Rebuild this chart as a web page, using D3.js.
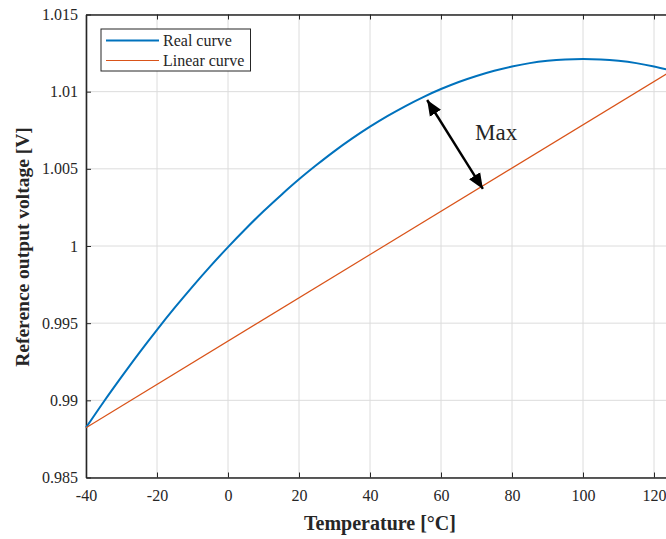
<!DOCTYPE html>
<html>
<head>
<meta charset="utf-8">
<script src="https://cdn.jsdelivr.net/npm/d3@7/dist/d3.min.js"></script>
<style>
  html, body { margin: 0; padding: 0; background: #fff; overflow: hidden; }
  svg { display: block; }
  text { font-family: "Liberation Serif", "Times New Roman", serif; fill: #262626; }
</style>
</head>
<body>
<script>
// Temperature samples (°C)
const temps = [-40,-35,-30,-25,-20,-15,-10,-5,0,5,10,15,20,25,30,35,40,45,50,55,60,65,70,75,80,85,90,95,100,105,110,115,120,125];
// Measured reference output (V)
const realCurve = [0.98823,0.98991,0.99152,0.99308,0.99457,0.99600,0.99737,0.99868,0.99993,1.00112,1.00225,1.00331,1.00432,1.00526,1.00615,1.00697,1.00773,1.00843,1.00907,1.00965,1.01017,1.01063,1.01102,1.01136,1.01163,1.01185,1.01200,1.01209,1.01212,1.01209,1.01200,1.01185,1.01163,1.01136];
// Straight line through the end points
const linearTemps = [-40, 125];
const linearCurve = [0.98823, 1.01136];
// Axis ticks
const xTicks = [-40,-20,0,20,40,60,80,100,120];
const xTickLabels = ["-40","-20","0","20","40","60","80","100","120"];
const yTicks = [0.985,0.99,0.995,1,1.005,1.01,1.015];
const yTickLabels = ["0.985","0.99","0.995","1","1.005","1.01","1.015"];
// "Max" deviation annotation: arrow ends (°C, V) and label anchor
const maxArrow = [[56.1, 1.00946], [71.8, 1.00370]];
const maxLabel = [69.6, 1.00687];

const W = 666, H = 539;
const plotLeft = 86, plotTop = 14.5, plotBottom = 477.5;

const x = d3.scaleLinear().domain([-40, 125]).range([plotLeft, plotLeft + 165 * 3.55]);
const y = d3.scaleLinear().domain([0.985, 1.015]).range([plotBottom, plotTop]);

const svg = d3.select("body").append("svg").attr("width", W).attr("height", H);

const defs = svg.append("defs");
defs.append("marker").attr("id", "head")
  .attr("viewBox", "0 0 10 10").attr("refX", 10).attr("refY", 5)
  .attr("markerWidth", 6.5).attr("markerHeight", 6.5).attr("orient", "auto-start-reverse")
  .attr("markerUnits", "strokeWidth")
  .append("path").attr("d", "M0,0.8 L10,5 L0,9.2 Z").attr("fill", "#000");

// grid
const grid = svg.append("g").attr("stroke", "#dcdcdc").attr("stroke-width", 1);
xTicks.forEach(t => grid.append("line").attr("x1", x(t)).attr("x2", x(t)).attr("y1", plotTop).attr("y2", plotBottom));
yTicks.forEach(t => grid.append("line").attr("x1", plotLeft).attr("x2", x(125)).attr("y1", y(t)).attr("y2", y(t)));

// axes (ticks pointing inward, box around plot)
const axisColor = "#262626";
const gB = svg.append("g").attr("transform", `translate(0,${plotBottom})`)
  .call(d3.axisBottom(x).tickValues(xTicks).tickSizeInner(-5).tickSizeOuter(0).tickPadding(12)
    .tickFormat((d, i) => xTickLabels[i]));
const gT = svg.append("g").attr("transform", `translate(0,${plotTop})`)
  .call(d3.axisTop(x).tickValues(xTicks).tickSizeInner(-5).tickSizeOuter(0).tickFormat(""));
const gL = svg.append("g").attr("transform", `translate(${plotLeft},0)`)
  .call(d3.axisLeft(y).tickValues(yTicks).tickSizeInner(-5).tickSizeOuter(0).tickPadding(8)
    .tickFormat((d, i) => yTickLabels[i]));
[gB, gT, gL].forEach(g => {
  g.select(".domain").attr("stroke", axisColor).attr("stroke-width", 1.6);
  g.selectAll(".tick line").attr("stroke", axisColor).attr("stroke-width", 1);
  g.selectAll("text").attr("font-family", "Liberation Serif, Times New Roman, serif")
    .attr("font-size", 16).attr("fill", axisColor);
});

// curves
const realLine = d3.line().x((d, i) => x(temps[i])).y(d => y(d)).curve(d3.curveMonotoneX);
svg.append("path").datum(realCurve).attr("d", realLine)
  .attr("fill", "none").attr("stroke", "#0072BD").attr("stroke-width", 2);
const linLine = d3.line().x((d, i) => x(linearTemps[i])).y(d => y(d));
svg.append("path").datum(linearCurve).attr("d", linLine)
  .attr("fill", "none").attr("stroke", "#D95319").attr("stroke-width", 1.2);

// annotation
svg.append("line")
  .attr("x1", x(maxArrow[0][0])).attr("y1", y(maxArrow[0][1]))
  .attr("x2", x(maxArrow[1][0])).attr("y2", y(maxArrow[1][1]))
  .attr("stroke", "#000").attr("stroke-width", 2.4)
  .attr("marker-start", "url(#head)").attr("marker-end", "url(#head)");
svg.append("text").attr("x", x(maxLabel[0])).attr("y", y(maxLabel[1]))
  .attr("font-size", 23).attr("fill", "#000").text("Max");

// legend
const lg = svg.append("g");
lg.append("rect").attr("x", 101).attr("y", 29).attr("width", 149.5).attr("height", 42)
  .attr("fill", "#fff").attr("stroke", axisColor).attr("stroke-width", 1);
const legendItems = [["Real curve", "#0072BD", 2], ["Linear curve", "#D95319", 1.2]];
legendItems.forEach(([label, color, w], i) => {
  const yy = 40.5 + i * 20;
  lg.append("line").attr("x1", 106).attr("x2", 159).attr("y1", yy).attr("y2", yy)
    .attr("stroke", color).attr("stroke-width", w);
  lg.append("text").attr("x", 163).attr("y", yy + 5.5).attr("font-size", 16).text(label);
});

// axis titles
svg.append("text").attr("x", 380).attr("y", 530).attr("text-anchor", "middle")
  .attr("font-size", 20).attr("font-weight", "bold").text("Temperature [°C]");
svg.append("text").attr("transform", `translate(29,247) rotate(-90)`)
  .attr("text-anchor", "middle").attr("font-size", 19.5).attr("font-weight", "bold")
  .text("Reference output voltage [V]");
</script>
</body>
</html>
